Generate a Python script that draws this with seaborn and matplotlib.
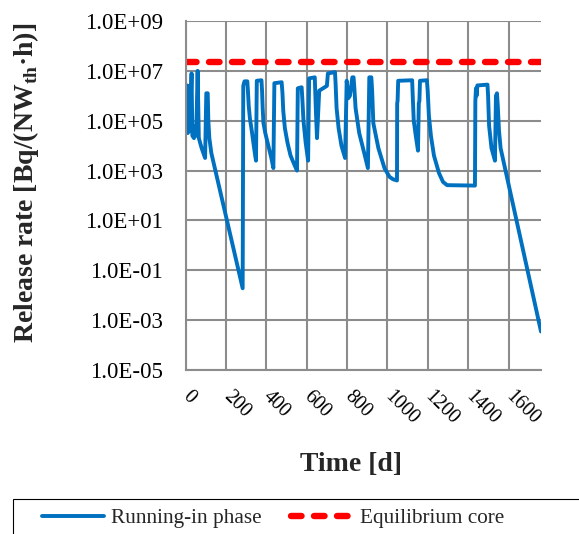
import matplotlib
matplotlib.use("Agg")
import matplotlib.pyplot as plt
import seaborn as sns
import pandas as pd
from matplotlib.ticker import FixedLocator, FixedFormatter, NullFormatter
from matplotlib.patches import Rectangle

# ---------------- data ----------------
days = [0, 2, 5, 8, 12, 16, 22, 30, 34, 42, 48, 53, 60, 66, 80, 97, 103, 110, 113, 118, 128, 283,
        286, 292, 306, 309, 313, 319, 328, 338, 345, 349,
        353, 376, 379, 382, 386, 395, 410, 425, 435,
        440, 476, 480, 484, 492, 505, 520, 538, 552,
        556, 575, 579, 584, 595, 607,
        612, 640, 645, 651, 662, 700, 705, 740, 743, 748, 758, 772, 790,
        798, 806, 814, 826, 832, 836, 842, 860, 885, 903,
        910, 920, 924, 930, 955, 985, 1010, 1027, 1047,
        1048, 1050, 1053, 1122, 1125, 1130, 1140, 1151,
        1155, 1158, 1161, 1195, 1199, 1205, 1215, 1230, 1255, 1275, 1295, 1433,
        1435, 1438, 1441, 1445, 1495, 1498, 1503, 1515, 1532,
        1537, 1542, 1546, 1552, 1560, 1760]
rates = [1.0e6, 2.8e6, 5.0e4, 2.0e6, 3.2e4, 2.5e6, 4.0e4, 7.9e6, 2.5e4, 2.0e4, 6.3e4, 2.5e4, 1.0e7, 2.0e4, 7.9e3, 3.2e3, 1.26e6, 1.26e6, 1.0e5, 2.0e4, 5.0e3, 1.9e-2,
         2.5e6, 3.8e6, 3.8e6, 1.6e6, 4.0e5, 1.2e5, 4.0e4, 1.0e4, 4.0e3, 2.5e3,
         4.0e6, 4.2e6, 1.6e6, 3.2e5, 8.0e4, 3.2e4, 1.0e4, 3.2e3, 1.26e3,
         3.2e6, 3.5e6, 1.3e6, 2.5e5, 5.0e4, 1.3e4, 4.0e3, 1.8e3, 1.0e3,
         2.0e6, 2.2e6, 6.3e5, 1.0e5, 1.3e4, 2.5e3,
         5.0e6, 5.5e6, 3.2e5, 2.0e4, 1.6e6, 2.5e6, 7.9e6, 8.9e6, 3.2e6, 3.2e5, 5.0e4, 1.0e4, 3.2e3,
         4.0e6, 8.0e5, 1.0e6, 5.5e6, 5.5e6, 2.0e6, 3.2e5, 3.2e4, 5.0e3, 1.26e3,
         5.5e6, 5.5e6, 1.6e6, 7.9e4, 7.9e3, 1.26e3, 5.6e2, 4.5e2, 4.0e2,
         5.0e5, 6.3e5, 4.0e6, 4.2e6, 1.0e6, 1.0e5, 2.5e4, 6.3e3,
         5.0e5, 6.3e5, 4.0e6, 4.2e6, 1.6e6, 1.6e5, 2.5e4, 4.0e3, 7.9e2, 3.5e2, 2.6e2, 2.5e2,
         6.3e5, 2.0e6, 1.0e6, 2.6e6, 2.8e6, 1.0e6, 6.3e4, 7.9e3, 2.5e3,
         1.0e6, 1.26e6, 4.0e5, 4.0e4, 7.9e3, 3.5e-4]
eq_days = [0, 1760]
eq_rates = [2.2e7, 2.2e7]

series_names = ["Running-in phase", "Equilibrium core"]
xticks = [0, 200, 400, 600, 800, 1000, 1200, 1400, 1600]
xtick_labels = ["0", "200", "400", "600", "800", "1000", "1200", "1400", "1600"]
yticks = [1e-5, 1e-3, 1e-1, 1e1, 1e3, 1e5, 1e7, 1e9]
ytick_labels = ["1.0E-05", "1.0E-03", "1.0E-01", "1.0E+01", "1.0E+03", "1.0E+05", "1.0E+07", "1.0E+09"]

# ---------------- style ----------------
sns.set_theme(style="white")
plt.rcParams['font.family'] = ['Liberation Serif', 'DejaVu Serif']
plt.rcParams['mathtext.fontset'] = 'custom'
plt.rcParams['mathtext.rm'] = 'Liberation Serif'
plt.rcParams['mathtext.bf'] = 'Liberation Serif:bold'
GRAY = '#8C8C8C'

fig = plt.figure(figsize=(5.79, 5.34), dpi=100)
W, H = 579, 534
ax = fig.add_axes([185.5 / W, 1 - 370 / H, (541 - 185.5) / W, (370 - 21) / H])

df = pd.DataFrame({"Time": days, "Rate": rates})
sns.lineplot(data=df, x="Time", y="Rate", ax=ax, color='#0070C0', lw=2.8,
             estimator=None, sort=False, label=series_names[0],
             solid_joinstyle='round', solid_capstyle='round')
df_eq = pd.DataFrame({"Time": eq_days, "Rate": eq_rates})
sns.lineplot(data=df_eq, x="Time", y="Rate", ax=ax, color='#FF0000', lw=4.6,
             linestyle=(0, (1.65, 1.95)), dash_capstyle='round',
             estimator=None, sort=False, label=series_names[1])

ax.set_yscale('log')
ax.set_xlim(0, 1760)
ax.set_ylim(1e-5, 1e9)

ax.xaxis.set_major_locator(FixedLocator(xticks))
ax.xaxis.set_minor_locator(FixedLocator([100, 300, 500, 700, 900, 1100, 1300, 1500, 1700]))
ax.xaxis.set_minor_formatter(NullFormatter())
ax.set_xticklabels(xtick_labels, rotation=-45, ha='left', va='center',
                   rotation_mode='anchor', fontsize=14.3)

ax.yaxis.set_major_locator(FixedLocator(yticks))
ax.yaxis.set_major_formatter(FixedFormatter(ytick_labels))
yminor = [m * 10.0 ** k for k in (-4, -2, 0, 2, 4, 6, 8) for m in range(1, 10)]
ax.yaxis.set_minor_locator(FixedLocator(yminor))
ax.yaxis.set_minor_formatter(NullFormatter())

ax.grid(True, which='major', color=GRAY, lw=1.5)
ax.set_axisbelow(True)
for s in ['top', 'right']:
    ax.spines[s].set_visible(False)
for s in ['left', 'bottom']:
    ax.spines[s].set_color(GRAY)
    ax.spines[s].set_linewidth(1.5)

ax.tick_params(axis='y', which='major', direction='inout', length=10, width=1.5,
               color=GRAY, labelsize=16.5, pad=11, labelcolor='black')
ax.tick_params(axis='y', which='minor', direction='in', length=3.6, width=1, color=GRAY)
ax.tick_params(axis='x', which='major', direction='inout', length=10, width=1.5,
               color=GRAY, pad=12.5, labelcolor='black')
ax.tick_params(axis='x', which='minor', direction='out', length=3.5, width=1, color=GRAY)

ax.set_xlabel("Time [d]", fontsize=20, fontweight='bold')
ax.xaxis.set_label_coords((351 - 185.5) / 355.5, (370 - 452) / 349)
ax.set_ylabel(r"Release rate [Bq/(NW$_{\mathbf{th}}$·h)]", fontsize=20, fontweight='bold')
ax.yaxis.set_label_coords((41 - 185.5) / 355.5, (370 - 183) / 349)

handles, labels = ax.get_legend_handles_labels()
ax.get_legend().remove()
fig.legend(handles, labels, loc='center left', bbox_to_anchor=(42 / W, 1 - 518 / H),
           ncol=2, frameon=False, fontsize=15.3, handlelength=2.92, handletextpad=0.34,
           columnspacing=1.35, borderpad=0, borderaxespad=0)
fig.patches.append(Rectangle((12.7 / W, -0.1), 1.2, (534 - 499.3) / H + 0.1,
                             transform=fig.transFigure, fill=False, edgecolor='black',
                             lw=0.8, figure=fig))

fig.savefig("out.png", dpi=100)
